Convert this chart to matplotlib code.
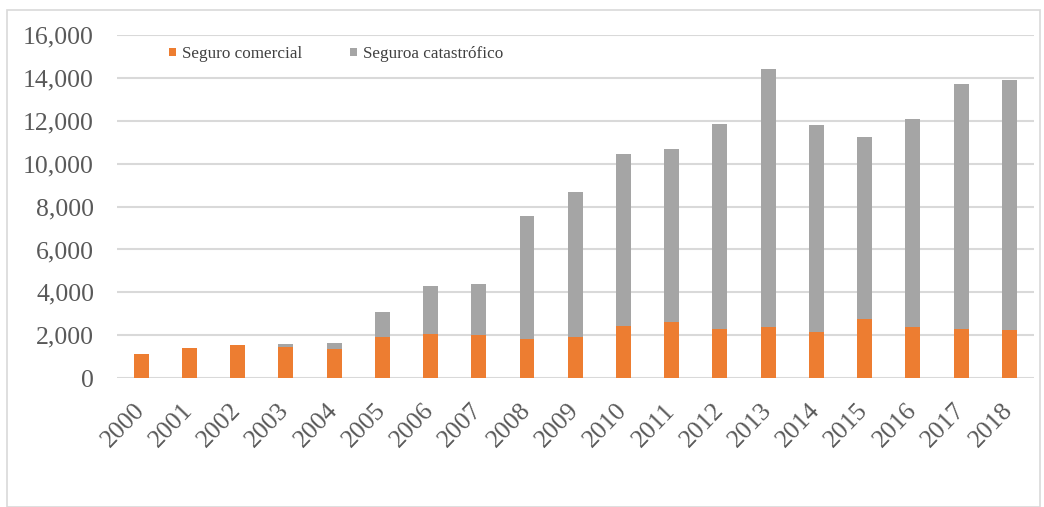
import matplotlib
matplotlib.use("Agg")
import matplotlib.pyplot as plt
from matplotlib.patches import Rectangle
from matplotlib.ticker import FuncFormatter, MultipleLocator

years = [str(y) for y in range(2000, 2019)]
comercial = [1100, 1410, 1560, 1460, 1360, 1920, 2050, 1990, 1830, 1920,
             2410, 2630, 2270, 2360, 2160, 2740, 2360, 2300, 2250]
total = [1100, 1410, 1560, 1580, 1630, 3100, 4300, 4410, 7560, 8690,
         10470, 10700, 11880, 14430, 11800, 11230, 12070, 13710, 13900]
catastrofico = [t - c for t, c in zip(total, comercial)]

plt.rcParams['font.family'] = ['Liberation Serif', 'DejaVu Serif']

fig = plt.figure(figsize=(10.44, 5.07), dpi=100)
ax = fig.add_axes([0.112, 0.2544, 0.878, 0.6760])

x = list(range(len(years)))
w = 0.31
ax.bar(x, comercial, width=w, color='#ED7D31', label='Seguro comercial', zorder=3)
ax.bar(x, catastrofico, width=w, bottom=comercial, color='#A5A5A5',
       label='Seguroa catastrófico', zorder=3)

ax.set_xlim(-0.5, len(years) - 0.5)
ax.set_ylim(0, 16000)
ax.yaxis.set_major_locator(MultipleLocator(2000))
ax.yaxis.set_major_formatter(FuncFormatter(lambda v, p: f"{int(v):,}"))
ax.grid(axis='y', color='#D9D9D9', linewidth=1.5, zorder=0)
ax.set_axisbelow(True)
for s in ax.spines.values():
    s.set_visible(False)
ax.tick_params(axis='both', length=0, labelsize=18.5, labelcolor='#595959')
ax.tick_params(axis='y', pad=16.5)
ax.set_xticks(x)
ax.set_xticklabels(years, rotation=46, ha='right', va='center',
                   rotation_mode='anchor')
ax.tick_params(axis='x', pad=21)

leg = fig.legend(loc='center left', bbox_to_anchor=(162 / 1044, 1 - 54 / 507),
                 ncol=2, frameon=False, fontsize=12.3, handlelength=0.4,
                 handleheight=0.4, handletextpad=0.35, columnspacing=2.8,
                 labelcolor='#404040', borderaxespad=0)

fig.patches.append(Rectangle((7 / 1044, 0.0), 1033 / 1044, 1 - 10 / 507,
                             transform=fig.transFigure, fill=False,
                             edgecolor='#D9D9D9', linewidth=1.2))

fig.savefig('out.png', dpi=100)
